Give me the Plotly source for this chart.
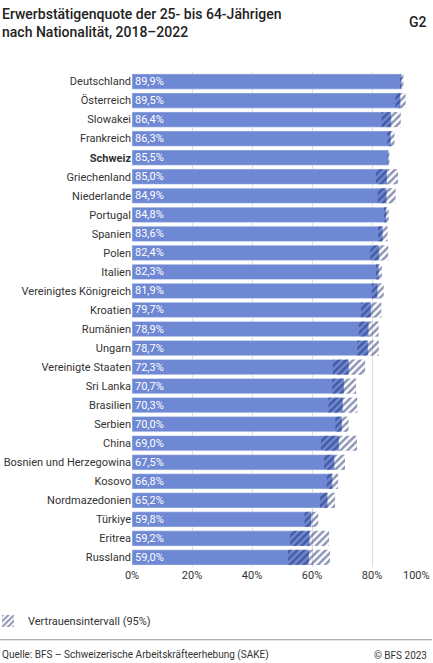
import plotly.graph_objects as go

countries = ["Deutschland","Österreich","Slowakei","Frankreich","Schweiz","Griechenland","Niederlande","Portugal","Spanien","Polen","Italien","Vereinigtes Königreich","Kroatien","Rumänien","Ungarn","Vereinigte Staaten","Sri Lanka","Brasilien","Serbien","China","Bosnien und Herzegowina","Kosovo","Nordmazedonien","Türkiye","Eritrea","Russland"]
values = [89.9,89.5,86.4,86.3,85.5,85.0,84.9,84.8,83.6,82.4,82.3,81.9,79.7,78.9,78.7,72.3,70.7,70.3,70.0,69.0,67.5,66.8,65.2,59.8,59.2,59.0]
ci = [0.6,1.7,3.2,1.2,0.3,3.7,3.0,0.8,1.6,3.0,1.0,2.0,3.4,3.3,3.6,5.4,4.0,4.8,2.2,6.0,3.5,1.9,2.5,2.3,6.5,7.0]
tick_vals = [0, 20, 40, 60, 80]
tick_text = ["0%", "20%", "40%", "60%", "80%"]

ticktext = ["<b>Schweiz</b>" if c == "Schweiz" else c for c in countries]
labels = [f"{v:.1f}%".replace(".", ",") for v in values]
dark = "#1c2c6b"
blue = "#6f88d4"

fig = go.Figure()
fig.add_bar(y=countries, x=values, orientation="h", marker_color=blue, width=0.8,
            text=labels, textposition="inside", insidetextanchor="start",
            textfont=dict(color="white", size=11, family="Roboto"), showlegend=False,
            hoverinfo="skip")
fig.add_bar(y=countries, x=[2*c for c in ci], base=[v-c for v, c in zip(values, ci)],
            orientation="h", width=0.8, name="Vertrauensintervall (95%)",
            marker=dict(color="rgba(0,0,0,0)", line_width=0,
                        pattern=dict(shape="/", fgcolor=dark, bgcolor="rgba(0,0,0,0)", size=5, solidity=0.5)))

fig.update_layout(
    width=433, height=663, barmode="overlay",
    plot_bgcolor="white", paper_bgcolor="white",
    margin=dict(l=132, r=1, t=72, b=96, autoexpand=False),
    font=dict(family="Roboto", size=11, color="#333333"),
    uniformtext=dict(minsize=11, mode="show"),
    xaxis=dict(range=[0, 100], tickvals=tick_vals + [100], ticktext=tick_text + [""],
               showgrid=True, gridcolor="#dddddd", zeroline=False, ticks="", automargin=False),
    yaxis=dict(categoryorder="array", categoryarray=countries[::-1], tickvals=countries, ticktext=ticktext,
               ticks="", showgrid=False, automargin=False, ticksuffix=" "),
    legend=dict(x=-0.48, y=-0.08, xanchor="left", yanchor="top", font=dict(size=11),
                itemwidth=30, bgcolor="rgba(0,0,0,0)"),
    showlegend=True,
)
fig.add_annotation(text="100%", xref="x", yref="paper", x=100, y=0, yanchor="top", xanchor="right",
                   yshift=0, showarrow=False, font=dict(size=11))
fig.add_annotation(text="Erwerbstätigenquote der 25- bis 64-Jährigen<br>nach Nationalität, 2018–2022",
                   xref="paper", yref="paper", x=-0.44, y=1.137, xanchor="left", yanchor="top",
                   align="left", showarrow=False, font=dict(size=14, color="#222222", family="Roboto", weight=500))
fig.add_annotation(text="G2", xref="paper", yref="paper", x=0.99, y=1.1, xanchor="right", yanchor="middle",
                   showarrow=False, font=dict(size=14, color="#222222", weight=500))
fig.add_shape(type="line", xref="paper", yref="paper", x0=-0.44, x1=1.0, y0=-0.147, y1=-0.147,
              line=dict(color="#999999", width=1))
fig.add_annotation(text="Quelle: BFS – Schweizerische Arbeitskräfteerhebung (SAKE)", xref="paper", yref="paper",
                   x=-0.44, y=-0.178, xanchor="left", yanchor="middle", showarrow=False, font=dict(size=10))
fig.add_annotation(text="© BFS 2023", xref="paper", yref="paper",
                   x=0.99, y=-0.178, xanchor="right", yanchor="middle", showarrow=False, font=dict(size=10))
fig.write_html("out.html", config={"displayModeBar": False},
               post_script="document.body.style.margin='0';document.body.style.overflow='hidden';")
